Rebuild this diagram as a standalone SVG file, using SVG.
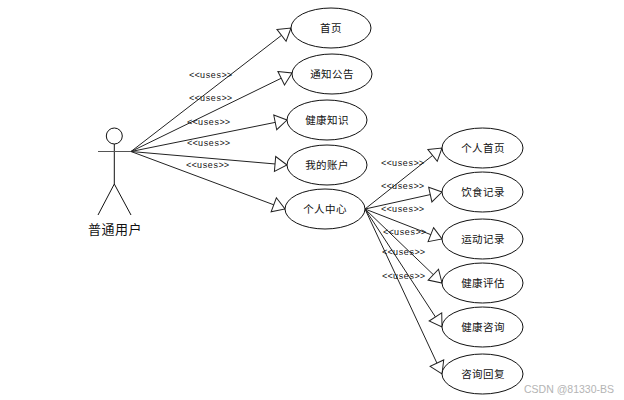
<svg xmlns="http://www.w3.org/2000/svg" width="624" height="400" viewBox="0 0 624 400">
<style>
.u{fill:#fff;stroke:#111;stroke-width:1}
.t{font-family:"Noto Sans CJK SC",sans-serif;font-size:10.5px;letter-spacing:.4px;text-anchor:middle;fill:#111}
.l{font-family:"Liberation Mono",monospace;font-size:9px;fill:#111}
.c line{stroke:#222;stroke-width:1;marker-end:url(#a)}
.s{stroke:#111;stroke-width:1;fill:none}
</style>
<defs><marker id="a" markerUnits="userSpaceOnUse" markerWidth="16" markerHeight="18" refX="13" refY="8.5" orient="auto" overflow="visible"><path d="M1,1 L13,8.5 L1,16 Z" fill="#fff" stroke="#222"/></marker></defs>
<rect width="624" height="400" fill="#fff"/>
<g id="actor">
<circle class="s" cx="114.3" cy="136" r="8"/>
<path class="s" d="M114.3 144V184M114.3 184L98 215M114.3 184L131 215"/>
<path d="M98 151.5H131" stroke="#555" stroke-width="1.2"/>
<text x="115" y="234" font-family="Noto Sans CJK SC,sans-serif" font-size="13" letter-spacing=".5" text-anchor="middle" fill="#111">普通用户</text>
</g>
<g id="connectors" class="c">
<line x1="131" y1="151.5" x2="291" y2="28"/>
<line x1="131" y1="151.5" x2="292" y2="73"/>
<line x1="131" y1="151.5" x2="287" y2="120"/>
<line x1="131" y1="151.5" x2="287" y2="165"/>
<line x1="131" y1="151.5" x2="285" y2="209"/>
<line x1="365" y1="209" x2="442" y2="148"/>
<line x1="365" y1="209" x2="442" y2="192"/>
<line x1="365" y1="209" x2="442" y2="239"/>
<line x1="365" y1="209" x2="442" y2="283"/>
<line x1="365" y1="209" x2="442" y2="327"/>
<line x1="365" y1="209" x2="442" y2="374"/>
</g>
<g id="labels" class="l">
<text x="189" y="78">&lt;&lt;uses&gt;&gt;</text>
<text x="189" y="101">&lt;&lt;uses&gt;&gt;</text>
<text x="187" y="125">&lt;&lt;uses&gt;&gt;</text>
<text x="187" y="146">&lt;&lt;uses&gt;&gt;</text>
<text x="186" y="168">&lt;&lt;uses&gt;&gt;</text>
<text x="381" y="166">&lt;&lt;uses&gt;&gt;</text>
<text x="381" y="189">&lt;&lt;uses&gt;&gt;</text>
<text x="381" y="212">&lt;&lt;uses&gt;&gt;</text>
<text x="383" y="235">&lt;&lt;uses&gt;&gt;</text>
<text x="382" y="255">&lt;&lt;uses&gt;&gt;</text>
<text x="382" y="279">&lt;&lt;uses&gt;&gt;</text>
</g>
<g id="n1"><ellipse class="u" cx="331" cy="28" rx="40" ry="20"/><text class="t" x="331" y="32">首页</text></g>
<g id="n2"><ellipse class="u" cx="332" cy="74" rx="40" ry="20"/><text class="t" x="332" y="78">通知公告</text></g>
<g id="n3"><ellipse class="u" cx="327" cy="120" rx="40" ry="20"/><text class="t" x="327" y="124">健康知识</text></g>
<g id="n4"><ellipse class="u" cx="327" cy="165" rx="40" ry="20"/><text class="t" x="327" y="169">我的账户</text></g>
<g id="n5"><ellipse class="u" cx="325" cy="209" rx="40" ry="20"/><text class="t" x="325" y="213">个人中心</text></g>
<g id="n6"><ellipse class="u" cx="482.500" cy="148" rx="40.500" ry="20"/><text class="t" x="483" y="152">个人首页</text></g>
<g id="n7"><ellipse class="u" cx="482.500" cy="192" rx="40.500" ry="20"/><text class="t" x="483" y="196">饮食记录</text></g>
<g id="n8"><ellipse class="u" cx="482.500" cy="239" rx="40.500" ry="20"/><text class="t" x="483" y="243">运动记录</text></g>
<g id="n9"><ellipse class="u" cx="482.500" cy="283" rx="40.500" ry="20"/><text class="t" x="483" y="287">健康评估</text></g>
<g id="n10"><ellipse class="u" cx="482.500" cy="327" rx="40.500" ry="20"/><text class="t" x="483" y="331">健康咨询</text></g>
<g id="n11"><ellipse class="u" cx="482.500" cy="374" rx="40.500" ry="20"/><text class="t" x="483" y="378">咨询回复</text></g>
<text x="524" y="393" font-family="Liberation Sans,sans-serif" font-size="10.5" textLength="90" fill="#b4b4b4">CSDN @81330-BS</text>
</svg>
